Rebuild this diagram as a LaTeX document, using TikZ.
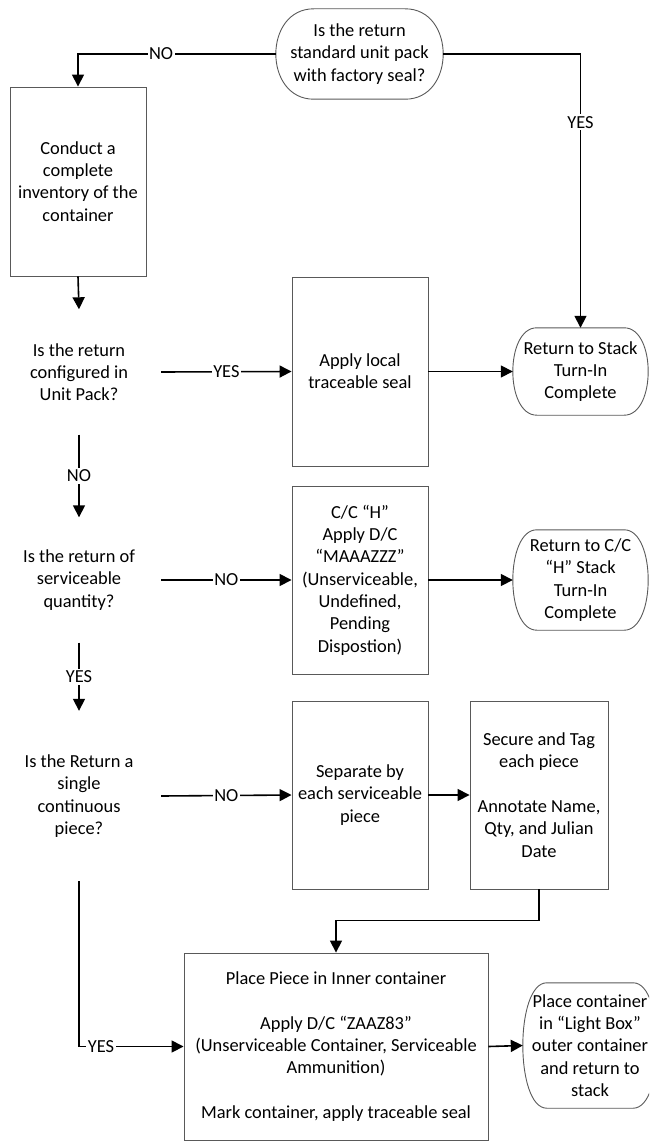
\documentclass[tikz,border=0pt]{standalone}
\usepackage{fontspec}
\setmainfont{Carlito}
\usetikzlibrary{arrows.meta,calc}

% outline of a terminator: flat top and bottom, bulging sides
\newcommand\termoutline[2]{%
  \draw[bord] ($(#1.north west)+(#2,0)$) -- ($(#1.north east)+(-#2,0)$)
    .. controls ($(#1.north east)+(0.333*#2,0)$) and ($(#1.south east)+(0.333*#2,0)$) .. ($(#1.south east)+(-#2,0)$)
    -- ($(#1.south west)+(#2,0)$)
    .. controls ($(#1.south west)+(-0.333*#2,0)$) and ($(#1.north west)+(-0.333*#2,0)$) .. cycle;}

\begin{document}
\begin{tikzpicture}[x=1pt,y=-1pt,
  every node/.style={font=\fontsize{18.4}{22.3}\selectfont, align=center, inner sep=0pt},
  bord/.style={draw=black!65, line width=0.9pt},
  proc/.style={rectangle, bord},
  term/.style={rectangle},
  dec/.style={rectangle, minimum width=164pt},
  link/.style={line width=1.6pt},
  flow/.style={link, -{Triangle[length=12pt,width=12pt]}},
  lbl/.style={fill=white, inner xsep=1.5pt, inner ysep=2pt}]

\useasboundingbox (0,0) rectangle (649,1142);
\clip (0,0) rectangle (649,1142);

% start
\node[term, minimum width=167pt, minimum height=90pt] (start) at (359.5,54)
  {Is the return\\standard unit pack\\with factory seal?};
\termoutline{start}{38}

% left column
\node[proc, minimum width=136pt, minimum height=189pt] (inv) at (78,181.5)
  {Conduct a\\complete\\inventory of the\\container};
\node[dec, minimum height=125pt] (qpack) at (79,372)
  {Is the return\\configured in\\Unit Pack?};
\node[dec, minimum height=125pt] (qserv) at (79,580)
  {Is the return of\\serviceable\\quantity?};
\node[dec, minimum height=170pt] (qpiece) at (79,796)
  {Is the Return a\\single\\continuous\\piece?};

% middle column
\node[proc, minimum width=136pt, minimum height=189pt] (seal) at (360,371.5)
  {Apply local\\traceable seal};
\node[proc, minimum width=136pt, minimum height=188pt] (cch) at (360,580)
  {C/C “H”\\Apply D/C\\“MAAAZZZ”\\(Unserviceable,\\Undefined,\\Pending\\Dispostion)};
\node[proc, minimum width=136pt, minimum height=188pt] (sep) at (360,795)
  {Separate by\\each serviceable\\piece};
\node[proc, minimum width=138pt, minimum height=188pt] (tag) at (539,795)
  {Secure and Tag\\each piece\\[22.3pt]Annotate Name,\\Qty, and Julian\\Date};
\node[proc, minimum width=304pt, minimum height=187pt] (inner) at (336,1046.5)
  {Place Piece in Inner container\\[22.3pt]Apply D/C “ZAAZ83”\\(Unserviceable Container, Serviceable\\Ammunition)\\[22.3pt]Mark container, apply traceable seal};

% right column terminators
\node[term, minimum width=135pt, minimum height=87pt] (stack) at (580.5,371.5)
  {Return to Stack\\Turn-In\\Complete};
\termoutline{stack}{24}
\node[term, minimum width=135pt, minimum height=100pt] (stackh) at (580.5,580)
  {Return to C/C\\“H” Stack\\Turn-In\\Complete};
\termoutline{stackh}{24}
\node[term, minimum width=134pt, minimum height=125pt] (outer) at (590,1045.5)
  {Place container\\in “Light Box”\\outer container\\and return to\\stack};
\termoutline{outer}{24}

% connectors
\draw[flow] (start.west) -| node[lbl, pos=0.29] {NO} (inv.north);
\draw[flow] (start.east) -| node[lbl, pos=0.625] {YES} (stack.north);
\draw[flow] (inv.south) -- (qpack.north);
\draw[flow] (qpack.east) -- node[lbl] {YES} (seal.west);
\draw[flow] (seal.east) -- (stack.west);
\draw[flow] (qpack.south) -- node[lbl] {NO} (qserv.north);
\draw[flow] (qserv.east) -- node[lbl] {NO} (cch.west);
\draw[flow] (cch.east) -- (stackh.west);
\draw[flow] (qserv.south) -- node[lbl] {YES} (qpiece.north);
\draw[flow] (qpiece.east) -- node[lbl] {NO} (sep.west);
\draw[flow] (sep.east) -- (tag.west);
\draw[flow] (tag.south) -- ++(0,31) -| (inner.north);
\draw[flow] (qpiece.south) |- node[lbl, pos=0.605] {YES} (inner.west);
\draw[flow] (inner.east) -- (outer.west);

\end{tikzpicture}
\end{document}
